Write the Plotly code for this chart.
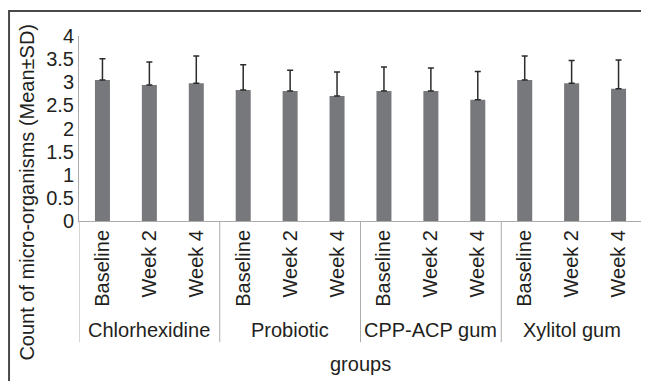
import plotly.graph_objects as go

groups = ["Chlorhexidine", "Probiotic", "CPP-ACP gum", "Xylitol gum"]
periods = ["Baseline", "Week 2", "Week 4"]
means = [3.05, 2.94, 2.98, 2.83, 2.81, 2.70, 2.81, 2.81, 2.62, 3.05, 2.98, 2.86]
sds = [0.46, 0.50, 0.59, 0.55, 0.45, 0.52, 0.52, 0.50, 0.61, 0.52, 0.49, 0.62]
y_ticks = [0, 0.5, 1, 1.5, 2, 2.5, 3, 3.5, 4]
y_tick_text = ["0", "0.5", "1", "1.5", "2", "2.5", "3", "3.5", "4"]
y_title = "Count of micro-organisms (Mean±SD)"
x_title = "groups"

OFF = 8  # page body margin
W, H = 649 - OFF, 381 - OFF
L, T = 79 - OFF, 36 - OFF
PLOT_BOTTOM = 221.5 - OFF
PLOT_RIGHT = 642.3 - OFF
R, B = W - PLOT_RIGHT, H - PLOT_BOTTOM
pw, ph = W - L - R, H - T - B

def px_x(p):
    return (p - OFF - L) / pw

def px_y(p):
    return (PLOT_BOTTOM - (p - OFF)) / ph

idx = list(range(len(means)))
ticktext = [periods[i % 3] for i in idx]
FONT = "Liberation Sans, Arial, sans-serif"
TXT = "#231f20"

fig = go.Figure()
fig.add_trace(go.Bar(
    x=idx, y=means,
    marker=dict(color="#77787b", line=dict(width=0)),
    error_y=dict(type="data", symmetric=False, array=sds, arrayminus=[0] * len(sds),
                 color="#2b2b2b", thickness=1.5, width=3),
))

shapes = []
n = len(means)
for k in range(len(groups) + 1):
    xv = k * 3 - 0.5
    shapes.append(dict(type="line", xref="x", yref="paper", x0=xv, x1=xv,
                       y0=0, y1=px_y(343), line=dict(color="#ababab", width=1)))
# outer frame
shapes.append(dict(type="rect", xref="paper", yref="paper",
                   x0=px_x(9), x1=px_x(720), y0=px_y(440), y1=px_y(11),
                   line=dict(color="#4a4a4a", width=2), layer="below"))

annotations = []
for g, name in enumerate(groups):
    annotations.append(dict(x=g * 3 + 1, y=px_y(331), xref="x", yref="paper",
                            text=name, showarrow=False,
                            font=dict(size=20, color=TXT, family=FONT),
                            xanchor="center", yanchor="middle"))
annotations.append(dict(x=0.5, y=px_y(365), xref="paper", yref="paper",
                        text=x_title, showarrow=False,
                        font=dict(size=20, color=TXT, family=FONT),
                        xanchor="center", yanchor="middle"))
annotations.append(dict(x=px_x(27.5), y=px_y(192.5), xref="paper", yref="paper",
                        text=y_title, showarrow=False, textangle=-90,
                        font=dict(size=20, color=TXT, family=FONT),
                        xanchor="center", yanchor="middle"))

fig.update_layout(
    width=W, height=H,
    margin=dict(l=L, r=R, t=T, b=B, autoexpand=False),
    paper_bgcolor="white", plot_bgcolor="white",
    bargap=0.68,
    showlegend=False,
    font=dict(family=FONT, size=20, color=TXT),
    xaxis=dict(range=[-0.5, n - 0.5], tickmode="array", tickvals=idx, ticktext=ticktext,
               tickangle=-90, showgrid=False, zeroline=False, showline=True,
               linecolor="#ababab", linewidth=1, ticks="", tickfont=dict(size=20, color=TXT),
               fixedrange=True),
    yaxis=dict(range=[0, 4], tickmode="array", tickvals=y_ticks, ticktext=y_tick_text,
               showgrid=False, zeroline=False, showline=True, linecolor="#ababab",
               linewidth=1, ticks="", tickfont=dict(size=20, color=TXT), fixedrange=True),
    shapes=shapes,
    annotations=annotations,
)

fig.write_html("out.html")
